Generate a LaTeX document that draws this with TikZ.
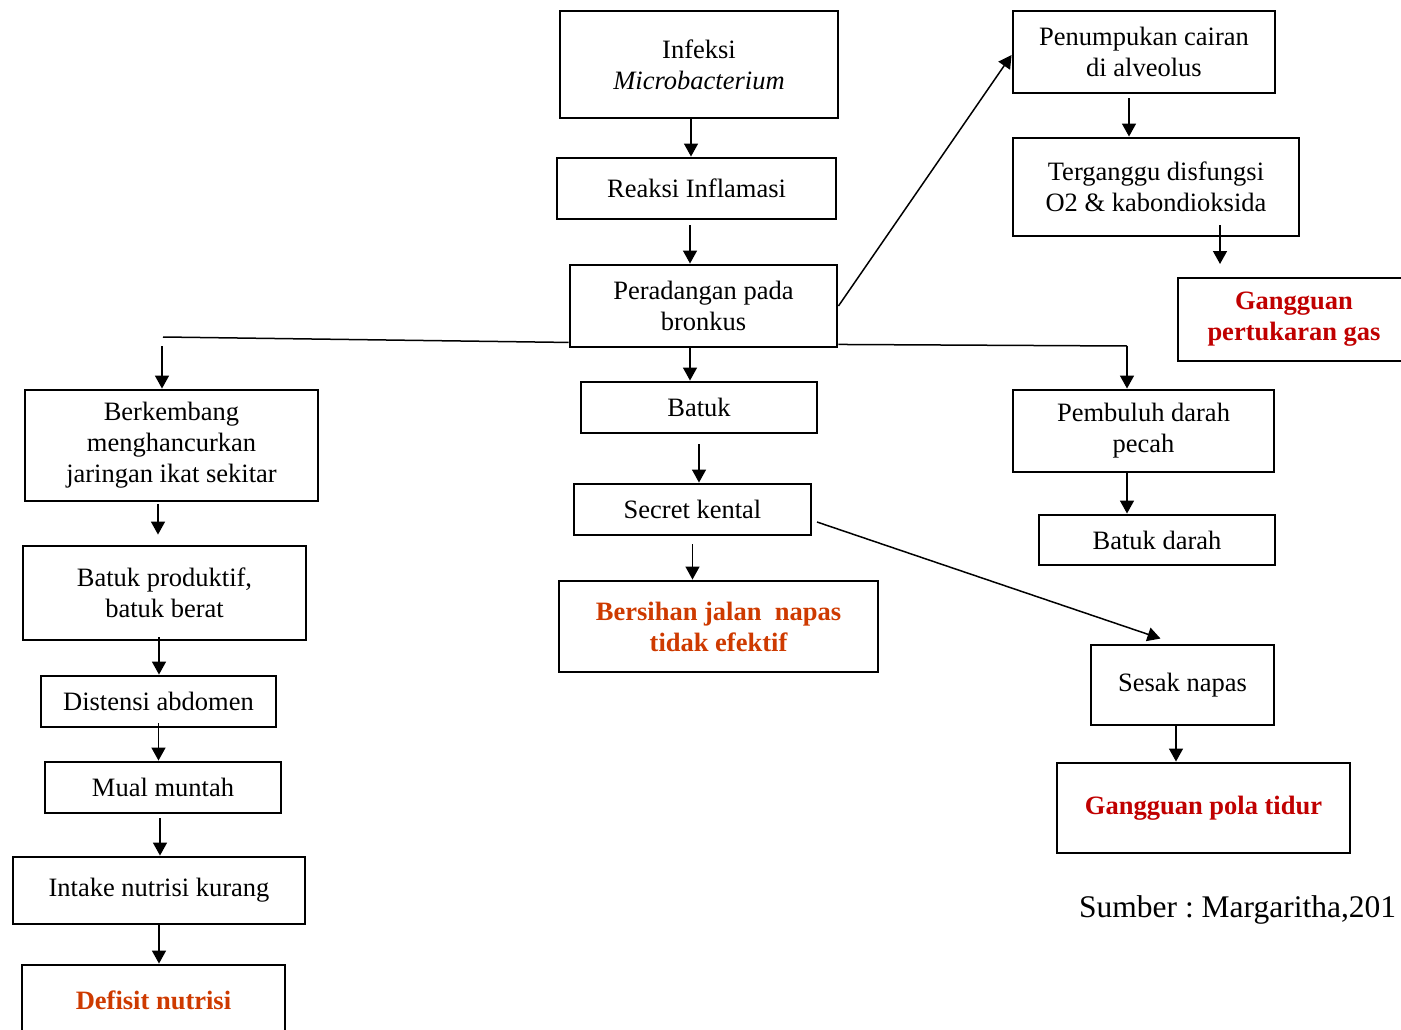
\documentclass[tikz,border=0pt]{standalone}
\usepackage{fontspec}
\setmainfont{Liberation Serif}
\usetikzlibrary{arrows.meta}
\definecolor{redA}{RGB}{192,0,0}
\definecolor{redB}{RGB}{206,58,0}
\newcommand{\fs}{\fontsize{26.5}{31}\selectfont}
\begin{document}
\begin{tikzpicture}[x=1pt,y=-1pt,
  box/.style={draw, line width=2.9pt, align=center, inner sep=0pt, font=\fs},
  redbox/.style={box, font=\fs\bfseries},
  arr/.style={line width=1.5pt, -{Triangle[length=13pt,width=14pt]}},
  ln/.style={line width=1.5pt}]
\useasboundingbox (0,0) rectangle (1401,1030);
\clip (0,0) rectangle (1401,1030);
% centre column
\node[box, minimum width=278pt, minimum height=107pt] (n1) at (699,64.5) {Infeksi\\\textit{Microbacterium}};
\node[box, minimum width=279pt, minimum height=61pt] (n2) at (696.5,188.5) {Reaksi Inflamasi};
\node[box, minimum width=267pt, minimum height=82pt] (n3) at (703.5,306) {Peradangan pada\\bronkus};
\node[box, minimum width=236pt, minimum height=51pt] (n4) at (699,407.5) {Batuk};
\node[box, minimum width=237pt, minimum height=51pt] (n5) at (692.5,509.5) {Secret kental};
\node[redbox, text=redB, minimum width=319pt, minimum height=91pt] (n6) at (718.5,626.5) {Bersihan jalan~~napas\\tidak efektif};
% right column
\node[box, minimum width=262pt, minimum height=82pt] (n7) at (1144,52) {Penumpukan cairan\\di alveolus};
\node[box, minimum width=286pt, minimum height=98pt] (n8) at (1156,187) {Terganggu disfungsi\\O2 \& kabondioksida};
\node[redbox, text=redA, minimum width=232pt, minimum height=83pt] (n9) at (1294,319.5) {Gangguan\\pertukaran gas};
\node[box, minimum width=261pt, minimum height=82pt] (n10) at (1143.5,431) {Pembuluh darah\\pecah};
\node[box, minimum width=236pt, minimum height=50pt] (n11) at (1157,540) {Batuk darah};
\node[box, minimum width=183pt, minimum height=80pt] (n12) at (1182.5,685) {Sesak napas};
\node[redbox, text=redA, minimum width=293pt, minimum height=90pt] (n13) at (1203.5,808) {Gangguan pola tidur};
% left column
\node[box, minimum width=293pt, minimum height=111pt] (n14) at (171.5,445.5) {Berkembang\\menghancurkan\\jaringan ikat sekitar};
\node[box, minimum width=283pt, minimum height=94pt] (n15) at (164.5,593) {Batuk produktif,\\batuk berat};
\node[box, minimum width=235pt, minimum height=51pt] (n16) at (158.5,701.5) {Distensi abdomen};
\node[box, minimum width=236pt, minimum height=51pt] (n17) at (163,787.5) {Mual muntah};
\node[box, minimum width=292pt, minimum height=67pt] (n18) at (159,890.5) {Intake nutrisi kurang};
\node[redbox, text=redB, minimum width=263pt, minimum height=70pt] (n19) at (153.5,1000) {Defisit nutrisi};
% source
\node[font=\fontsize{31.5}{36}\selectfont, anchor=west, inner sep=0pt] (src) at (1079,910) {\frenchspacing Sumber : Margaritha,201};
% connectors centre
\draw[arr] ([xshift=-8pt]n1.south) -- ([xshift=-8pt]n1.south |- n2.north);
\draw[arr] ([xshift=-6.5pt,yshift=-5pt]n2.south) -- ([xshift=-6.5pt]n2.south |- n3.north);
\draw[arr] ([xshift=-13.5pt]n3.south) -- ([xshift=-13.5pt]n3.south |- n4.north);
\draw[arr] ([yshift=-10pt]n4.south) -- (n4.south |- n5.north);
\draw[arr] ([yshift=-8pt]n5.south) -- (n5.south |- n6.north);
% to right branch
\draw[arr] (n3.east) -- ([yshift=-3pt]n7.west);
\draw[arr] ([xshift=-15pt,yshift=-4pt]n7.south) -- ([xshift=-15pt]n7.south |- n8.north);
\coordinate (c4) at (1220,264);
\draw[arr] ([yshift=12pt]n8.south -| c4) -- (c4);
\coordinate (c1) at (1127,346);
\draw[ln] ([yshift=4pt]n3.south east) -- (c1);
\draw[arr] (c1) -- (c1 |- n10.north);
\draw[arr] ([xshift=-16.5pt]n10.south) -- ([xshift=-16.5pt]n10.south |- n11.north);
\coordinate (c5) at (817,522);
\draw[arr] (c5) -- ([shift={(-22pt,5pt)}]n12.north);
\draw[arr] ([xshift=-6.5pt]n12.south) -- ([xshift=-6.5pt]n12.south |- n13.north);
% left branch
\coordinate (c2) at (163,337);
\draw[ln] ([yshift=6pt]n3.south west) -- (c2);
\coordinate (c3) at (162,346);
\draw[arr] (c3) -- (c3 |- n14.north);
\draw[arr] ([xshift=-13.5pt,yshift=-2pt]n14.south) -- ([xshift=-13.5pt,yshift=10pt]n14.south |- n15.north);
\draw[arr] ([xshift=-5.5pt,yshift=4pt]n15.south) -- ([xshift=-5.5pt]n15.south |- n16.north);
\draw[arr] ([yshift=5pt]n16.south) -- (n16.south |- n17.north);
\draw[arr] ([xshift=-3pt,yshift=-4pt]n17.south) -- ([xshift=-3pt]n17.south |- n18.north);
\draw[arr] (n18.south) -- (n18.south |- n19.north);
\end{tikzpicture}
\end{document}
